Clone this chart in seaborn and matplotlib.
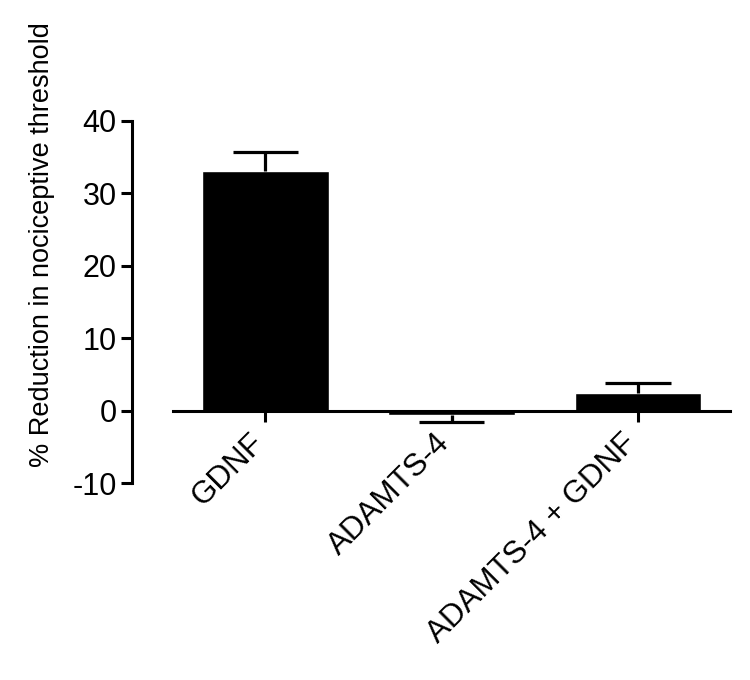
import matplotlib
matplotlib.use('Agg')
import matplotlib.pyplot as plt
from matplotlib.transforms import ScaledTranslation
import numpy as np
import pandas as pd
import seaborn as sns

# Values
groups = ['GDNF', 'ADAMTS-4', 'ADAMTS-4 + GDNF']
means = [33.1, -0.6, 2.4]
sems = [2.6, 1.05, 1.4]
yticks = [-10, 0, 10, 20, 30, 40]

df = pd.DataFrame({'Group': groups, 'Reduction': means})

sns.set_theme(style='white')
plt.rcParams['font.family'] = ['Liberation Sans', 'DejaVu Sans']
plt.rcParams['text.color'] = 'black'
plt.rcParams['axes.labelcolor'] = 'black'
plt.rcParams['axes.edgecolor'] = 'black'
plt.rcParams['xtick.color'] = 'black'
plt.rcParams['ytick.color'] = 'black'

fig = plt.figure(figsize=(7.5, 6.8), dpi=100)
ax = fig.add_axes([0.2307, 0.2897, 0.7427, 0.5328])

sns.barplot(data=df, x='Group', y='Reduction', color='black', width=0.68,
            errorbar=None, saturation=1, ax=ax)

# one-sided SEM bars, pointing away from zero
xpos = np.arange(len(groups))
tips = [m + s if m >= 0 else m - s for m, s in zip(means, sems)]
ax.vlines(xpos, means, tips, color='black', linewidth=2.3, zorder=3)
ax.hlines(tips, xpos - 0.176, xpos + 0.176, color='black', linewidth=2.3, zorder=3)

ax.set_xlim(-0.496, 2.495)
ax.set_ylim(-10, 40)

ax.spines['top'].set_visible(False)
ax.spines['right'].set_visible(False)
ax.spines['left'].set_position(('outward', 29.5))
ax.spines['left'].set_linewidth(2.2)
ax.spines['bottom'].set_position(('data', 0))
ax.spines['bottom'].set_linewidth(2.2)
ax.spines['bottom'].set_zorder(4)

ax.set_yticks(yticks)
ax.set_yticklabels([str(t) for t in yticks])
ax.set_xticks(xpos)
ax.set_xticklabels(groups, rotation=45, ha='right', va='center',
                   rotation_mode='anchor')
ax.tick_params(axis='y', direction='out', length=8, width=2.2, pad=3,
               left=True, labelsize=22, labelcolor='black')
ax.tick_params(axis='x', direction='out', length=8, width=2.2, pad=12,
               bottom=True, labelsize=22.5, labelcolor='black')
for lab in ax.get_xticklabels():
    lab.set_transform(lab.get_transform() + ScaledTranslation(-4.5 / 72, 0, fig.dpi_scale_trans))

ax.set_xlabel('')
ax.set_ylabel('% Reduction in nociceptive threshold', fontsize=19.5)
ax.yaxis.set_label_coords(-0.212, 0.657)

fig.savefig('out.png', dpi=100)
